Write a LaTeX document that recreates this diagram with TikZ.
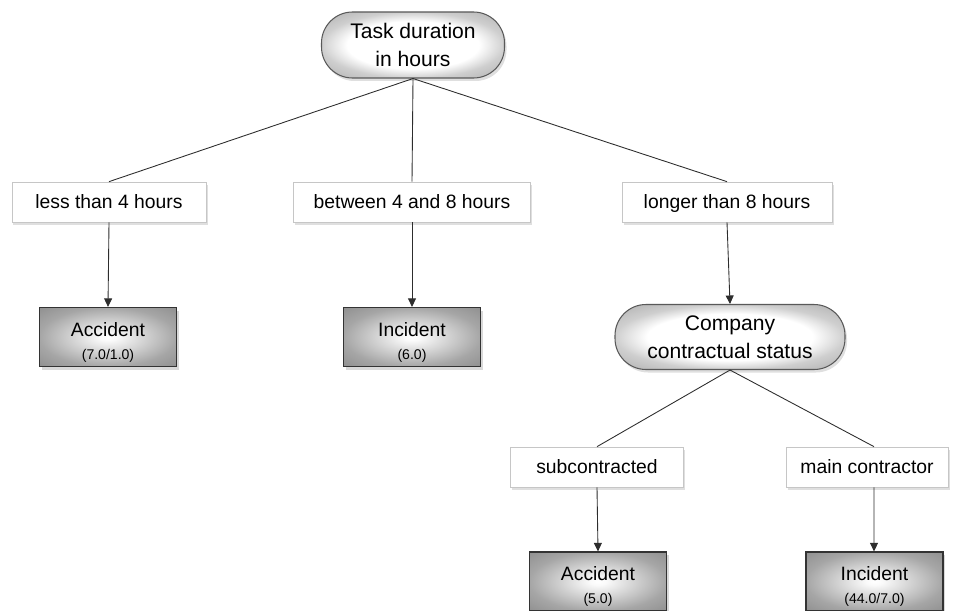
\documentclass[tikz,border=0pt]{standalone}
\usepackage{fontspec}
\setmainfont{Liberation Sans}
\usetikzlibrary{arrows.meta,shadows}

% shadings for the tree boxes
\pgfdeclareradialshading{leafshade}{\pgfpoint{0bp}{0bp}}{color(0bp)=(white); color(3bp)=(white!96!gray); color(25bp)=(gray!70); color(36bp)=(gray!88); color(50bp)=(gray!88)}
\pgfdeclareradialshading{decshade}{\pgfpoint{0bp}{0bp}}{color(0bp)=(white); color(18bp)=(white); color(25bp)=(gray!38); color(36bp)=(gray!65); color(50bp)=(gray!65)}

\tikzset{
    decision/.style={rectangle, rounded corners=0.62cm, draw=gray!70!black, line width=0.6pt,
        shading=decshade, minimum height=1.32cm, inner sep=0pt, align=center,
        font=\fontsize{12}{16}\selectfont,
        drop shadow={opacity=0.25, shadow xshift=0.04cm, shadow yshift=-0.06cm}},
    branch/.style={rectangle, draw=gray!45, line width=0.4pt, fill=white,
        minimum height=0.8cm, inner sep=0pt, text height=10pt, text depth=2.5pt,
        font=\fontsize{11}{13}\selectfont,
        drop shadow={opacity=0.25, shadow xshift=0.03cm, shadow yshift=-0.05cm}},
    leaf/.style={rectangle, draw=gray!40!black, line width=0.7pt, shading=leafshade,
        minimum width=2.74cm, minimum height=1.18cm, inner sep=0pt, align=center,
        font=\fontsize{11}{12}\selectfont,
        drop shadow={opacity=0.3, shadow xshift=0.04cm, shadow yshift=-0.06cm}},
    edge/.style={draw=gray!35!black, line width=0.5pt},
    arr/.style={draw=gray!35!black, line width=0.5pt, -{Triangle[length=1.7mm,width=1.6mm]}},
}
\newcommand{\cnt}[1]{{\fontsize{8}{9}\selectfont #1}}

\begin{document}
\begin{tikzpicture}

    \useasboundingbox (0,0) rectangle (19.06,12.2);

    % Root test
    \node[decision, minimum width=3.66cm] (task) at (8.26,11.30) {Task duration\\in hours};

    % Branches of the root
    \node[branch, minimum width=3.88cm] (less) at (2.18,8.16) {less than 4 hours};
    \node[branch, minimum width=4.74cm] (between) at (8.24,8.16) {between 4 and 8 hours};
    \node[branch, minimum width=4.20cm] (longer) at (14.54,8.16) {longer than 8 hours};

    % First level leaves and second test
    \node[leaf] (acc1) at (2.16,5.46) {\rule{0pt}{14pt}Accident\\[1pt]\cnt{(7.0/1.0)}};
    \node[leaf] (inc1) at (8.24,5.46) {\rule{0pt}{14pt}Incident\\[1pt]\cnt{(6.0)}};
    \node[decision, minimum width=4.60cm, minimum height=1.30cm] (company) at (14.60,5.46) {Company\\contractual status};

    % Branches of the second test
    \node[branch, minimum width=3.46cm] (sub) at (11.94,2.86) {subcontracted};
    \node[branch, minimum width=3.24cm] (main) at (17.34,2.86) {main contractor};

    % Bottom leaves
    \node[leaf] (acc2) at (11.96,0.57) {\rule{0pt}{14pt}Accident\\[1pt]\cnt{(5.0)}};
    \node[leaf] (inc2) at (17.49,0.57) {\rule{0pt}{14pt}Incident\\[1pt]\cnt{(44.0/7.0)}};

    % Connectors
    \foreach \b in {less,between,longer} {
        \draw[edge] (task.south) -- (\b.north);
    }
    \draw[arr] (less.south) -- (acc1.north);
    \draw[arr] (between.south) -- (inc1.north);
    \draw[arr] (longer.south) -- (company.north);
    \draw[edge] (company.south) -- (sub.north);
    \draw[edge] (company.south) -- ([xshift=0.14cm]main.north);
    \draw[arr] (sub.south) -- (acc2.north);
    \draw[arr] ([xshift=0.14cm]main.south) -- ([xshift=-0.01cm]inc2.north);

\end{tikzpicture}
\end{document}
